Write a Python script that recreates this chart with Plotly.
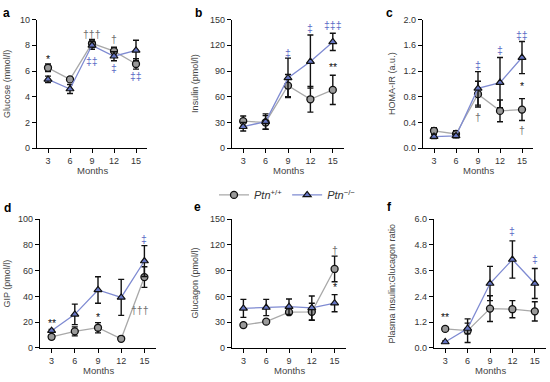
import plotly.graph_objects as go

W, H = 550, 382
months = [3, 6, 9, 12, 15]

glucose_wt = [6.25, 5.35, 8.15, 7.55, 6.55]
glucose_wt_err = [0.3, 0.15, 0.3, 0.3, 0.4]
glucose_ko = [5.35, 4.6, 8.0, 7.15, 7.6]
glucose_ko_err = [0.25, 0.35, 0.3, 0.35, 0.8]

insulin_wt = [31.5, 30, 73, 57, 68]
insulin_wt_err = [6, 8, 13, 15, 17]
insulin_ko = [25, 31, 82, 101, 124]
insulin_ko_err = [5, 9, 23, 31, 10]

homa_wt = [0.27, 0.22, 0.84, 0.58, 0.60]
homa_wt_err = [0.05, 0.05, 0.2, 0.17, 0.17]
homa_ko = [0.18, 0.19, 0.93, 1.02, 1.41]
homa_ko_err = [0.03, 0.03, 0.26, 0.39, 0.25]

gip_wt = [8.5, 12.8, 15.6, 7, 55]
gip_wt_err = [1.5, 3.5, 4, 1, 8]
gip_ko = [13.3, 26, 45, 39.2, 67.5]
gip_ko_err = [1, 8, 10.3, 14, 12]

glucagon_wt = [26.5, 30.5, 41.5, 42, 92]
glucagon_wt_err = [2, 2, 2.5, 10, 15]
glucagon_ko = [46, 47, 48, 46.5, 52]
glucagon_ko_err = [10.5, 9.5, 9, 14, 10]

ratio_wt = [0.88, 0.8, 1.83, 1.8, 1.7]
ratio_wt_err = [0.1, 0.55, 0.6, 0.4, 0.45]
ratio_ko = [0.27, 0.9, 3.0, 4.12, 3.0]
ratio_ko_err = [0.05, 0.25, 0.8, 0.87, 0.7]

panel_letters = ["a", "b", "c", "d", "e", "f"]
y_titles = ["Glucose (mmol/l)", "Insulin (pmol/l)", "HOMA-IR (a.u.)",
            "GIP (pmol/l)", "Glucagon (pmol/l)", "Plasma Insulin:Glucagon ratio"]
y_ticks = [
    [0, 2, 4, 6, 8, 10],
    [0, 30, 60, 90, 120, 150],
    [0, 0.4, 0.8, 1.2, 1.6, 2.0],
    [0, 20, 40, 60, 80, 100],
    [0, 30, 60, 90, 120, 150],
    [0, 1.2, 2.4, 3.6, 4.8, 6.0],
]
y_ticklabels = [
    ["0", "2", "4", "6", "8", "10"],
    ["0", "30", "60", "90", "120", "150"],
    ["0.0", "0.4", "0.8", "1.2", "1.6", "2.0"],
    ["0", "20", "40", "60", "80", "100"],
    ["0", "30", "60", "90", "120", "150"],
    ["0.0", "1.2", "2.4", "3.6", "4.8", "6.0"],
]
wt_data = [(glucose_wt, glucose_wt_err), (insulin_wt, insulin_wt_err), (homa_wt, homa_wt_err),
           (gip_wt, gip_wt_err), (glucagon_wt, glucagon_wt_err), (ratio_wt, ratio_wt_err)]
ko_data = [(glucose_ko, glucose_ko_err), (insulin_ko, insulin_ko_err), (homa_ko, homa_ko_err),
           (gip_ko, gip_ko_err), (glucagon_ko, glucagon_ko_err), (ratio_ko, ratio_ko_err)]

# significance marks: (panel, month, value, text, kind)
sig_marks = [
    (0, 3, 6.9, "*", "s"), (0, 9, 8.85, "†††", "d"), (0, 9, 6.8, "‡‡", "k"),
    (0, 12, 8.5, "†", "d"), (0, 12, 6.2, "‡", "k"), (0, 15, 5.6, "‡‡", "k"),
    (1, 9, 111, "‡", "k"), (1, 12, 140, "‡", "k"), (1, 15, 144, "‡‡‡", "k"), (1, 15, 95, "**", "s"),
    (2, 9, 1.3, "‡", "k"), (2, 9, 0.49, "†", "d"), (2, 12, 1.52, "‡", "k"),
    (2, 15, 1.76, "‡‡", "k"), (2, 15, 0.97, "*", "s"), (2, 15, 0.29, "†", "d"),
    (3, 3, 19, "**", "s"), (3, 9, 23.6, "*", "s"), (3, 15, 85, "‡", "k"), (3, 14.4, 29.6, "†††", "d"),
    (4, 15, 114, "†", "d"), (4, 15, 71, "*", "s"),
    (5, 3, 1.45, "**", "s"), (5, 12, 5.47, "‡", "k"), (5, 15, 4.15, "‡", "k"),
]

# pixel layout of the panels (left, right, top, bottom)
boxes = [(37, 147, 15, 147), (232, 344, 15, 147), (423, 533, 15, 147),
         (40, 156, 220, 352), (232, 346, 220, 352), (434, 546, 220, 352)]
letter_pos = [(6, 8), (198, 8), (389, 8), (7, 208), (197, 207), (389, 207)]
ytitle_x = [7, 195, 392, 7, 195, 392]

GRAY_LINE = "#a9a9a9"
GRAY_FILL = "#9a9a9a"
BLUE_LINE = "#7f8bd2"
BLUE_FILL = "#6676c4"
sig_colors = {"s": "#111111", "d": "#707070", "k": "#5a6cc6"}
FONT = "Liberation Sans, Arial, sans-serif"

fig = go.Figure()
layout = dict(width=W, height=H, margin=dict(l=0, r=0, t=0, b=0),
              paper_bgcolor="white", plot_bgcolor="white",
              font=dict(family=FONT, size=9, color="#333333"))
annotations = []

for i in range(6):
    l, r, t, b = boxes[i]
    sx = "" if i == 0 else str(i + 1)
    xa, ya = "x" + sx, "y" + sx
    layout["xaxis" + sx] = dict(
        domain=[l / W, r / W], range=[1.5, 16.5], anchor=ya,
        tickvals=months, ticktext=[str(m) for m in months],
        showline=True, linecolor="black", linewidth=1.2, ticks="outside",
        ticklen=4, tickcolor="black", showgrid=False, zeroline=False,
        tickfont=dict(size=9, color="#333333"))
    ymax = y_ticks[i][-1]
    layout["yaxis" + sx] = dict(
        domain=[1 - b / H, 1 - t / H], range=[0, ymax], anchor=xa,
        tickvals=y_ticks[i], ticktext=y_ticklabels[i],
        showline=True, linecolor="black", linewidth=1.2, ticks="outside",
        ticklen=4, tickcolor="black", showgrid=False, zeroline=False,
        tickfont=dict(size=9, color="#333333"))

    wv, we = wt_data[i]
    kv, ke = ko_data[i]
    fig.add_trace(go.Scatter(
        x=months, y=wv, xaxis=xa, yaxis=ya, mode="lines+markers",
        name="<i>Ptn</i><sup>+/+</sup>", legendgroup="wt", showlegend=(i == 0),
        line=dict(color=GRAY_LINE, width=1.3),
        marker=dict(symbol="circle", size=7, color=GRAY_FILL,
                    line=dict(color="#111111", width=1.3)),
        error_y=dict(type="data", array=we, color="#111111", thickness=1.4, width=3)))
    fig.add_trace(go.Scatter(
        x=months, y=kv, xaxis=xa, yaxis=ya, mode="lines+markers",
        name="<i>Ptn</i><sup>−/−</sup>", legendgroup="ko", showlegend=(i == 0),
        line=dict(color=BLUE_LINE, width=1.3),
        marker=dict(symbol="triangle-up", size=7, color=BLUE_FILL,
                    line=dict(color="#111111", width=1.2)),
        error_y=dict(type="data", array=ke, color="#111111", thickness=1.4, width=3)))

    # panel letter
    lx, ly = letter_pos[i]
    annotations.append(dict(text="<b>%s</b>" % panel_letters[i], xref="paper", yref="paper",
                            x=lx / W, y=1 - ly / H, xanchor="center", yanchor="middle",
                            showarrow=False, font=dict(size=12, color="black", family=FONT)))
    # y title
    annotations.append(dict(text=y_titles[i], xref="paper", yref="paper",
                            x=ytitle_x[i] / W, y=1 - (t + b) / 2 / H, textangle=-90,
                            xanchor="center", yanchor="middle",
                            showarrow=False, font=dict(size=9, color="#444444", family=FONT)))
    # x title
    annotations.append(dict(text="Months", xref="paper", yref="paper",
                            x=(l + r) / 2 / W, y=1 - (b + 23) / H,
                            xanchor="center", yanchor="middle", showarrow=False,
                            font=dict(size=9.5, color="#444444", family=FONT)))

for (p, mx, val, txt, kind) in sig_marks:
    sx = "" if p == 0 else str(p + 1)
    annotations.append(dict(text=txt, xref="x" + sx, yref="y" + sx, x=mx, y=val,
                            xanchor="center", yanchor="middle", showarrow=False,
                            font=dict(size=10.5, color=sig_colors[kind], family=FONT)))

layout["annotations"] = annotations
layout["legend"] = dict(orientation="h", x=214 / W, y=1 - 195 / H, xanchor="left",
                        yanchor="middle", font=dict(size=11, color="#333333", family=FONT),
                        bgcolor="rgba(0,0,0,0)", itemwidth=30, tracegroupgap=0)
fig.update_layout(**layout)
fig.write_html("out.html", config={"displayModeBar": False},
               post_script="document.body.style.margin='0';document.body.style.overflow='hidden';")
